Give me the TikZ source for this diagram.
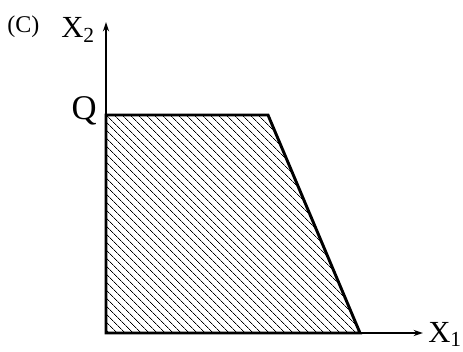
\documentclass[tikz,border=0pt]{standalone}
\usepackage{fontspec}
\setmainfont{Liberation Serif}
\usepackage{tikz}
\usetikzlibrary{arrows.meta, patterns.meta}

\begin{document}
\begin{tikzpicture}[x=0.75pt, y=-0.75pt,
  axis/.style={line width=1.5pt, -{Stealth[length=7pt, width=4.5pt]}},
  lbl/.style={inner sep=0pt, font=\fontsize{23}{25}\selectfont}]
  \useasboundingbox (0,0) rectangle (463,352);
  % region
  \coordinate (O) at (106,333);
  \coordinate (Q) at (106,115);
  \coordinate (K) at (268,115);
  \coordinate (B) at (360,333);
  \fill[pattern={Lines[angle=-45, distance=4pt, line width=0.6pt]}]
    (O) -- (Q) -- (K) -- (B) -- cycle;
  \draw[line width=2.2pt, line join=miter] (O) -- (Q) -- (K) -- (B) -- cycle;
  % axes
  \coordinate (xend) at (423,333);
  \coordinate (yend) at (106,22);
  \draw[axis] (O) -- (xend);
  \draw[axis] (O) -- (yend);
  % labels
  \node[lbl, anchor=base west] (xlbl) at (428,342) {X\textsubscript{1}};
  \node[lbl, anchor=base west] (ylbl) at (61,38) {X\textsubscript{2}};
  \node[lbl, anchor=base east, font=\fontsize{26}{28}\selectfont] (qlbl) at (97,120) {Q};
  \node[lbl, anchor=base west, font=\fontsize{18}{20}\selectfont] (part) at (7,33) {(C)};
\end{tikzpicture}
\end{document}
